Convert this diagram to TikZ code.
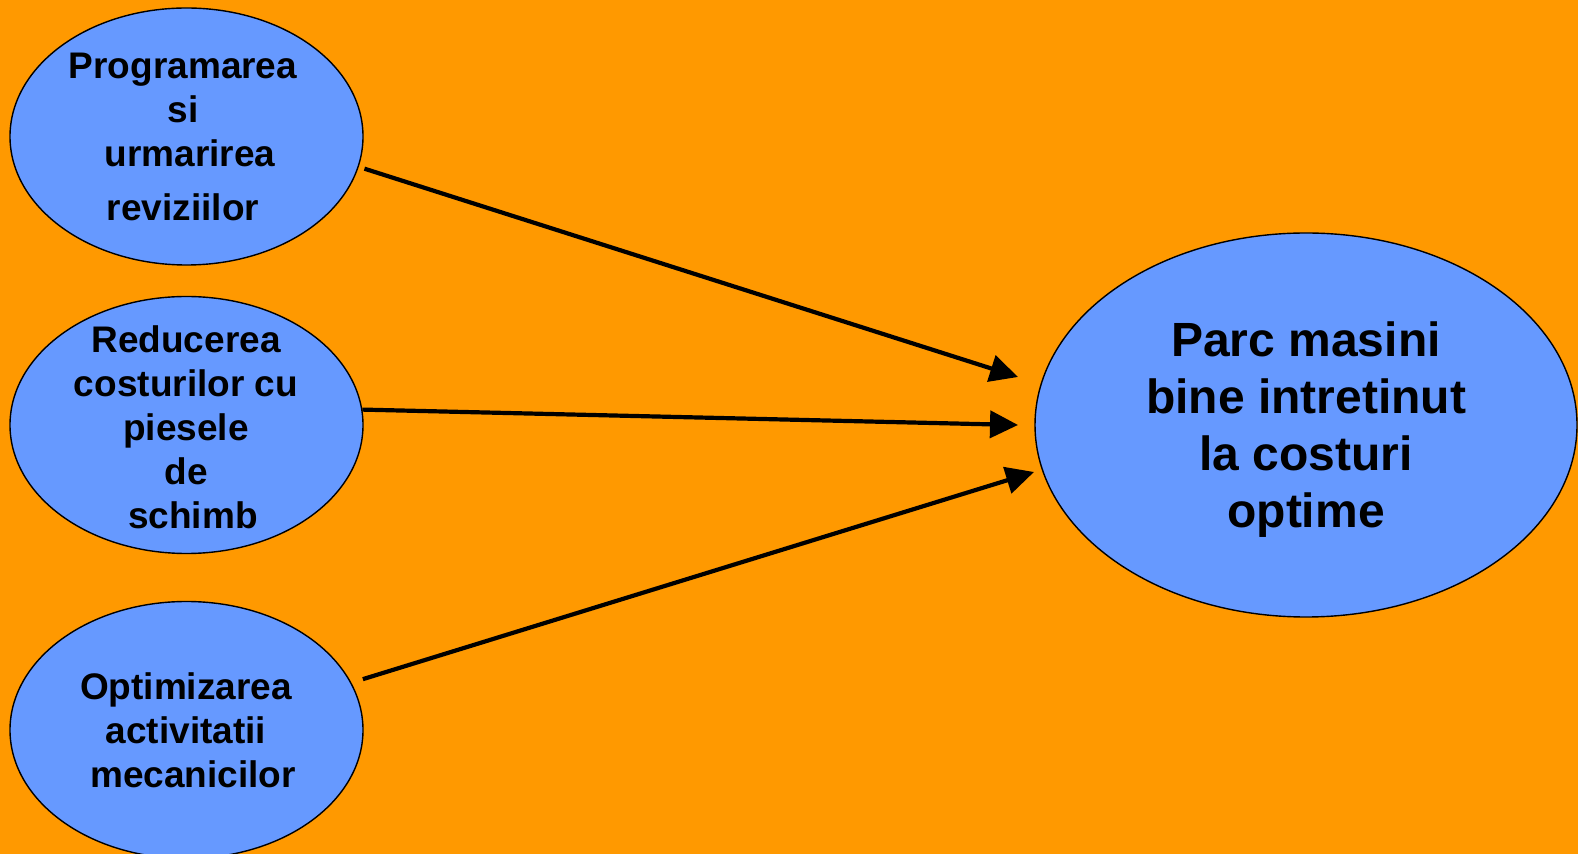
\documentclass[tikz,border=0pt]{standalone}
\usepackage{fontspec}
\setmainfont{Liberation Sans}
\usetikzlibrary{shapes.geometric,arrows.meta}
\definecolor{bgorange}{HTML}{FF9900}
\definecolor{ellblue}{HTML}{6699FF}
\tikzset{
  bubble/.style={ellipse,draw=black,line width=0.7pt,fill=ellblue,inner sep=0pt},
  small/.style={bubble,minimum width=176.5pt,minimum height=128.5pt},
  big/.style={bubble,minimum width=271pt,minimum height=192pt},
  smalltxt/.style={align=center,font=\fontsize{18.5}{22}\selectfont\bfseries,inner sep=0pt},
  bigtxt/.style={align=center,font=\fontsize{24}{28.5}\selectfont\bfseries,inner sep=0pt},
  arr/.style={line width=2.1pt,-{Triangle[length=14pt,width=13.5pt]}}
}
\begin{document}
\begin{tikzpicture}[x=0.5pt,y=-0.5pt]
\fill[bgorange] (0,0) rectangle (1578,854);
\useasboundingbox (0,0) rectangle (1578,854);
\node[small] (n1) at (186.5,136.5) {};
\node[small] (n2) at (186.5,425) {};
\node[small] (n3) at (186.5,730) {};
\node[big] (n4) at (1306,425) {};
\node[smalltxt] (n1t) at (183,137) {Programarea\\si\\\hspace*{7pt}urmarirea\\[5pt]reviziilor};
\node[smalltxt] (n2t) at (186,427) {Reducerea\\costurilor cu\\piesele\\de\\\hspace*{7pt}schimb};
\node[smalltxt] (n3t) at (186,730) {Optimizarea\\activitatii\\\hspace*{7pt}mecanicilor};
\node[bigtxt] (n4t) at (1306,430) {Parc masini\\bine intretinut\\la costuri\\optime};
\coordinate (t1) at (1018,377);
\coordinate (t2) at (1018,425);
\coordinate (t3) at (1034,472);
\draw[arr,shorten <=3pt] (n1.-10) -- (t1);
\draw[arr] (n2.5) -- (t2);
\draw[arr,shorten <=6pt] (n3.16) -- (t3);
\end{tikzpicture}
\end{document}
